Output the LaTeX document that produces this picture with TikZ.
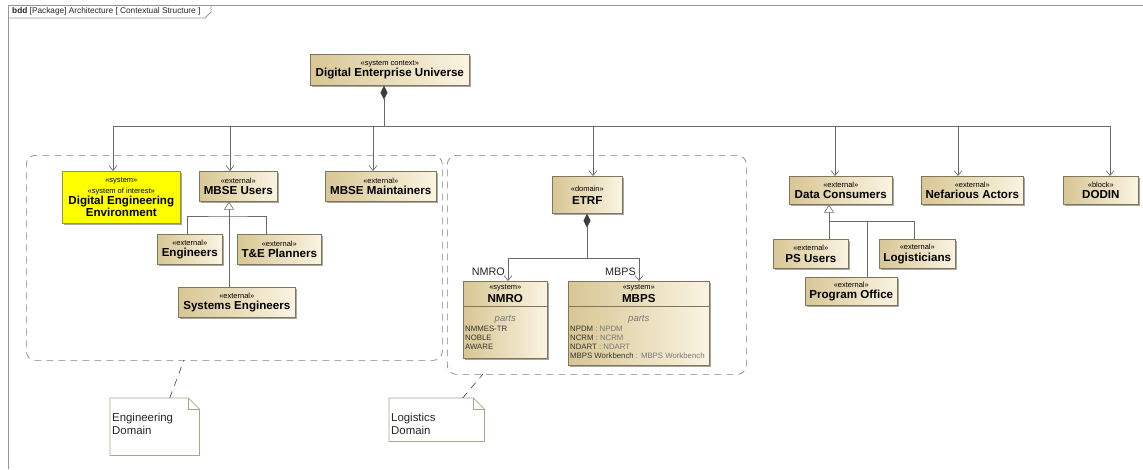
\documentclass[tikz,border=0pt]{standalone}
\usepackage{fontspec}
\setmainfont{Liberation Sans}
\usetikzlibrary{arrows.meta,shadows,calc}

\definecolor{blkdark}{RGB}{216,198,148}
\definecolor{blklight}{RGB}{250,244,226}
\definecolor{blkborder}{RGB}{128,118,92}
\definecolor{wire}{RGB}{105,105,105}
\definecolor{pkgdash}{RGB}{130,130,130}
\definecolor{framec}{RGB}{150,150,150}
\definecolor{soi}{RGB}{255,255,0}
\definecolor{soiborder}{RGB}{150,150,60}
\definecolor{partgray}{RGB}{120,120,120}
\definecolor{notebord}{RGB}{170,165,140}
\definecolor{diamc}{RGB}{60,60,60}

\newcommand\stfont{\fontsize{7.5}{8.4}\selectfont}
\newcommand\nmfont{\fontsize{11.6}{13.2}\selectfont\bfseries}
\newcommand\ptfont{\fontsize{7.8}{9}\selectfont}

\tikzset{
  blkbase/.style={line width=0.6pt, anchor=north west, inner sep=0pt, align=center,
    drop shadow={shadow xshift=2pt, shadow yshift=-2pt, opacity=0.35, fill=black}},
  blk/.style={blkbase, draw=blkborder, left color=blkdark, right color=blklight},
  soibox/.style={blkbase, draw=soiborder, fill=soi},
  wireline/.style={draw=wire, line width=0.6pt},
  arr/.style={wireline, -{Straight Barb[length=5pt,width=8pt]}},
  gen/.style={wireline, -{Triangle[open,length=8pt,width=10pt,fill=white]}},
  comp/.style={wireline, {Diamond[length=14pt,width=7pt,color=diamc,fill=diamc]}-},
  domainbox/.style={draw=pkgdash, line width=0.7pt, dash pattern=on 7pt off 5pt,
    rounded corners=9pt, anchor=north west, inner sep=0pt},
  notetext/.style={anchor=north west, align=left, inner sep=0pt,
    font=\fontsize{11.4}{13}\selectfont, text=black!85},
  anchorline/.style={draw=black!75, line width=0.6pt, dash pattern=on 7pt off 6pt},
  rolelabel/.style={anchor=east, inner sep=0pt, font=\fontsize{10.8}{12}\selectfont, text=black!85},
}

\begin{document}
\begin{tikzpicture}[x=1pt,y=-1pt]
  \useasboundingbox[fill=white] (0,0) rectangle (1143,469);

  % diagram frame with its name tab
  \draw[framec, line width=0.8pt] (8,469) -- (8,5) -- (1143,5);
  \draw[framec, line width=0.8pt] (8,18) -- (205,18) -- (211,12) -- (211,5);
  \node[anchor=west, inner sep=0pt, font=\fontsize{8.3}{9}\selectfont, text=black!85] (frametitle) at (12,11.5)
    {\textbf{bdd} [Package] Architecture [ Contextual Structure ]};

  % package regions
  \node[domainbox, minimum width=416, minimum height=205] (engbox) at (26,155) {};
  \node[domainbox, minimum width=299, minimum height=219] (logbox) at (447,155) {};

  % system context
  \node[blk, minimum width=159, minimum height=31] (deu) at (310,54)
    {\stfont «system context»\\[-0.5pt]\nmfont Digital Enterprise Universe};

  % engineering domain
  \node[soibox, minimum width=118, minimum height=52] (dee) at (62,171)
    {\stfont «system»\\[-1pt]\stfont «system of interest»\\[-0.5pt]\nmfont Digital Engineering\\\nmfont Environment};
  \node[blk, minimum width=78, minimum height=30] (mbseu) at (199,171)
    {\stfont «external»\\[-0.5pt]\nmfont MBSE Users};
  \node[blk, minimum width=111, minimum height=30] (mbsem) at (325,171)
    {\stfont «external»\\[-0.5pt]\nmfont MBSE Maintainers};
  \node[blk, minimum width=65, minimum height=30] (eng) at (157,234)
    {\stfont «external»\\[-0.5pt]\nmfont Engineers};
  \node[blk, minimum width=84, minimum height=30] (tep) at (237,234)
    {\stfont «external»\\[-0.5pt]\nmfont T\&E Planners};
  \node[blk, minimum width=117, minimum height=30] (syseng) at (178,287)
    {\stfont «external»\\[-0.5pt]\nmfont Systems Engineers};

  % logistics domain
  \node[blk, minimum width=70, minimum height=37] (etrf) at (552,176)
    {\stfont «domain»\\[1pt]\nmfont ETRF};

  \node[blk, minimum width=84, minimum height=77] (nmro) at (463,281) {};
  \node[inner sep=0pt, font=\stfont] (nmrost) at ($(nmro.north)+(0,6.5)$) {«system»};
  \node[inner sep=0pt, font=\nmfont] (nmronm) at ($(nmro.north)+(0,17.5)$) {NMRO};
  \draw[blkborder, line width=0.5pt] ($(nmro.north west)+(0,25)$) -- ($(nmro.north east)+(0,25)$);
  \node[inner sep=0pt, font=\fontsize{9.5}{10}\selectfont\itshape, text=partgray] (nmropt) at ($(nmro.north)+(0,38)$) {parts};
  \node[anchor=north west, inner sep=0pt, align=left, font=\ptfont, text=black!80] (nmrolist)
    at ($(nmro.north west)+(2,44.5)$) {NMMES-TR\\NOBLE\\AWARE};

  \node[blk, minimum width=141, minimum height=84] (mbps) at (568,281) {};
  \node[inner sep=0pt, font=\stfont] (mbpsst) at ($(mbps.north)+(0,6.5)$) {«system»};
  \node[inner sep=0pt, font=\nmfont] (mbpsnm) at ($(mbps.north)+(0,17.5)$) {MBPS};
  \draw[blkborder, line width=0.5pt] ($(mbps.north west)+(0,25)$) -- ($(mbps.north east)+(0,25)$);
  \node[inner sep=0pt, font=\fontsize{9.5}{10}\selectfont\itshape, text=partgray] (mbpspt) at ($(mbps.north)+(0,38)$) {parts};
  \node[anchor=north west, inner sep=0pt, align=left, font=\ptfont, text=black!80] (mbpslist)
    at ($(mbps.north west)+(2,44.5)$)
    {NPDM {\color{partgray}: NPDM}\\NCRM {\color{partgray}: NCRM}\\NDART {\color{partgray}: NDART}\\MBPS Workbench {\color{partgray}: MBPS Workbench}};

  % outside actors and blocks
  \node[blk, minimum width=103, minimum height=28] (dc) at (789,176)
    {\stfont «external»\\[-0.5pt]\nmfont Data Consumers};
  \node[blk, minimum width=102, minimum height=28] (nef) at (921,176)
    {\stfont «external»\\[-0.5pt]\nmfont Nefarious Actors};
  \node[blk, minimum width=75, minimum height=28] (dodin) at (1063,176)
    {\stfont «block»\\[-0.5pt]\nmfont DODIN};
  \node[blk, minimum width=75, minimum height=29] (psu) at (773,239)
    {\stfont «external»\\[-0.5pt]\nmfont PS Users};
  \node[blk, minimum width=76, minimum height=29] (logi) at (879,239)
    {\stfont «external»\\[-0.5pt]\nmfont Logisticians};
  \node[blk, minimum width=92, minimum height=28] (po) at (805,277)
    {\stfont «external»\\[-0.5pt]\nmfont Program Office};

  % composition of the system context
  \coordinate (hub) at (384,126);
  \coordinate (t1) at (113,126);
  \coordinate (t2) at (230,126);
  \coordinate (t3) at (373,126);
  \coordinate (t4) at (593,126);
  \coordinate (t5) at (835,126);
  \coordinate (t6) at (958,126);
  \coordinate (t7) at (1110,126);
  \draw[comp] (hub |- deu.south) -- (hub);
  \draw[wireline] (t1) -- (t7);
  \draw[arr] (t1) -- (t1 |- dee.north);
  \draw[arr] (t2) -- (t2 |- mbseu.north);
  \draw[arr] (t3) -- (t3 |- mbsem.north);
  \draw[arr] (t4) -- (t4 |- etrf.north);
  \draw[arr] (t5) -- (t5 |- dc.north);
  \draw[arr] (t6) -- (t6 |- nef.north);
  \draw[arr] (t7) -- (t7 |- dodin.north);

  % MBSE user specialisations
  \coordinate (gj) at (229,216);
  \draw[gen] (syseng.north -| gj) -- (mbseu.south -| gj);
  \draw[wireline] ([xshift=-3pt]eng.north) |- (gj) -| ([xshift=-13pt]tep.north);

  % ETRF composition
  \coordinate (ehub) at (587,258);
  \coordinate (en) at (508,258);
  \coordinate (em) at (639,258);
  \draw[comp] (ehub |- etrf.south) -- (ehub);
  \draw[wireline] (en) -- (em);
  \draw[arr] (en) -- (en |- nmro.north);
  \draw[arr] (em) -- (em |- mbps.north);
  \node[rolelabel] (nmrorole) at (505,272) {NMRO};
  \node[rolelabel] (mbpsrole) at (636,272) {MBPS};

  % data consumer specialisations
  \coordinate (dj) at (829,221);
  \draw[gen] (psu.north -| dj) -- (dc.south -| dj);
  \draw[wireline] (dj) -| ([xshift=-3pt]logi.north);
  \draw[wireline] ([xshift=16pt]po.north) -- ([xshift=16pt]po.north |- dj);

  % comment notes
  \node[minimum width=89, minimum height=57, anchor=north west, inner sep=0pt] (engnote) at (110,398) {};
  \draw[notebord, line width=0.7pt, fill=white] (engnote.north west) -- ([xshift=-11pt]engnote.north east)
    -- ([yshift=-11pt]engnote.north east) -- (engnote.south east) -- (engnote.south west) -- cycle;
  \draw[notebord, line width=0.6pt] ([xshift=-11pt]engnote.north east) |- ([yshift=-11pt]engnote.north east);
  \node[notetext] (engtext) at (112,413) {Engineering\\Domain};

  \node[minimum width=95, minimum height=43, anchor=north west, inner sep=0pt] (lognote) at (389,398) {};
  \draw[notebord, line width=0.7pt, fill=white] (lognote.north west) -- ([xshift=-11pt]lognote.north east)
    -- ([yshift=-11pt]lognote.north east) -- (lognote.south east) -- (lognote.south west) -- cycle;
  \draw[notebord, line width=0.6pt] ([xshift=-11pt]lognote.north east) |- ([yshift=-11pt]lognote.north east);
  \node[notetext] (logtext) at (391,413) {Logistics\\Domain};

  \coordinate (engtag) at (184,360);
  \coordinate (logtag) at (483,374);
  \draw[anchorline] ([xshift=15pt]engnote.north) -- (engtag);
  \draw[anchorline] ([xshift=26pt]lognote.north) -- (logtag);
\end{tikzpicture}
\end{document}
